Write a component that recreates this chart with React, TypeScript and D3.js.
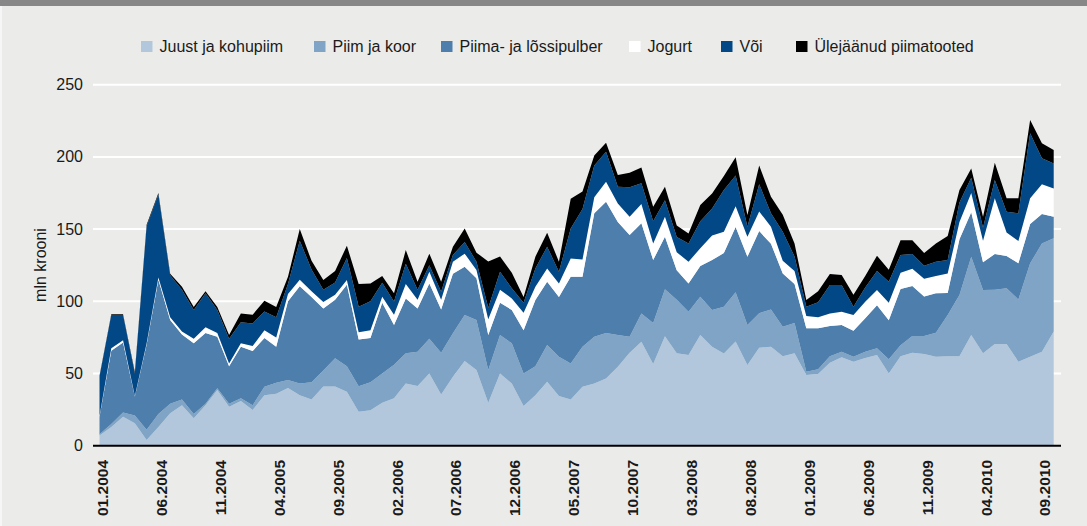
import React, { useEffect, useRef } from "react";
import * as d3 from "d3";

const seriesNames = ["Juust ja kohupiim", "Piim ja koor", "Piima- ja lõssipulber", "Jogurt", "Või", "Ülejäänud piimatooted"];
const seriesColors = ["#b3c7dc", "#80a4c5", "#4e7eab", "#ffffff", "#024887", "#000000"];

// monthly categories 01.2004 .. 10.2010
const months = d3.timeMonths(new Date(2004, 0, 1), new Date(2010, 10, 1)).map(d3.timeFormat("%m.%Y"));
const tickLabels = ["01.2004", "06.2004", "11.2004", "04.2005", "09.2005", "02.2006", "07.2006", "12.2006", "05.2007",
  "10.2007", "03.2008", "08.2008", "01.2009", "06.2009", "11.2009", "04.2010", "09.2010"];
const yTicks = [0, 50, 100, 150, 200, 250];

// mln krooni
const juust = [
  7, 13, 20, 15.5, 4, 13, 22.4, 28, 19, 28,
  38.5, 27, 31, 24.7, 35, 36, 40, 35, 32, 41,
  41, 37.4, 23.5, 24.5, 29.8, 32.8, 43, 41.3, 50, 35.5,
  47.8, 58.6, 52.4, 29.8, 50, 43, 27.5, 35, 44.3, 34.4,
  32, 40.9, 43, 46.6, 54.7, 64.4, 72, 56.5, 75.8, 64,
  62.8, 76.6, 68.6, 63.8, 72.2, 55.9, 67.9, 68.6, 62, 64,
  48.9, 49.6, 57.5, 61.2, 58.2, 60.7, 62.8, 50, 62, 64.4,
  63.5, 61.6, 62, 62, 76.6, 64, 70.4, 70.4, 58.2, 61.6,
  65, 79];
const piim = [
  1, 2, 3, 5.5, 7, 9, 6.6, 4, 3, 1,
  1.2, 2, 1.8, 3.3, 5.9, 7.6, 5.5, 8, 12, 11,
  19.5, 17.6, 17.7, 19.5, 20.2, 23.2, 21, 23.7, 24, 28.9,
  30, 31.9, 34.6, 22.6, 26.6, 27.9, 22.5, 20, 25.4, 27.2,
  25, 27.7, 32.5, 31.4, 21.9, 11.1, 19.6, 28.5, 32.5, 37,
  30, 26.6, 25.4, 32.4, 34.1, 27.7, 23.9, 25.8, 20.4, 21,
  2.3, 3.3, 4.5, 3.8, 3.4, 4.3, 4.6, 9.8, 7.5, 11.6,
  12.5, 16.7, 28.5, 42.3, 54.3, 43.8, 37.6, 38.6, 43.1, 64.7,
  75, 64.6];
const pulber = [
  12, 50.8, 48.5, 13, 59, 93, 58, 45, 49, 49,
  35.8, 26, 35.8, 37.5, 33.6, 25, 54.5, 67.5, 59, 43,
  40.5, 56.5, 32.4, 30.5, 49, 27.6, 38, 30, 38.4, 30,
  41.2, 33.5, 28.9, 24.2, 22.4, 23.1, 30, 45.9, 43.9, 41.4,
  60, 48.4, 85.5, 91, 78.4, 70.5, 62.4, 43.6, 36.4, 20.5,
  19.6, 21.3, 34.6, 37.2, 45.2, 47.3, 56.8, 45.4, 36.9, 27,
  30.1, 28.4, 20.9, 18.6, 18, 23.2, 29.8, 27, 39.1, 34.6,
  27.4, 27.2, 15.3, 38.7, 30.8, 19.2, 24.7, 22.4, 25, 27.2,
  20.4, 15];
const jogurt = [
  0.5, 1.6, 1.5, 0.5, 1, 1.5, 2, 2, 3, 4,
  2.5, 2, 2.4, 3.5, 5.5, 6.4, 5, 4.5, 4, 4.5,
  3.5, 3.2, 4.9, 5.5, 4.2, 7, 10, 6, 8.1, 6.6,
  8.4, 9, 5.7, 11, 9, 8, 12, 9.1, 9.2, 9.4,
  12.7, 12, 11, 13.8, 12.8, 12.6, 13.4, 11.4, 13.9, 12.5,
  15, 12.2, 17, 14.7, 14.3, 13.8, 13.6, 11.9, 8.7, 9,
  8.5, 7.6, 8.7, 9.2, 10.9, 11.5, 10.6, 12.2, 11.2, 12,
  12.2, 12, 13.5, 12, 13.3, 15, 38.6, 16.2, 15.5, 17.8,
  20.6, 19.6];
const voi = [
  27.5, 23.1, 17.5, 15.5, 81, 57.5, 29, 29, 20, 23.5,
  16, 17, 14.5, 15.7, 13, 14, 7, 27, 15, 8.5,
  8.5, 15.3, 17.8, 20, 9.7, 9.2, 14, 7, 4.5, 5.6,
  4.6, 8, 5.8, 8, 12.5, 7, 7, 12.8, 15, 8.1,
  20.8, 35, 22, 20.8, 11.6, 20.4, 14.3, 15.5, 11.4, 10.5,
  12.6, 18.8, 18.6, 28.9, 21.4, 7, 18.8, 9.3, 20.1, 10,
  6.5, 10.4, 19.7, 18.5, 5.8, 9.8, 13.2, 14.6, 12.2, 10.1,
  9.1, 9.9, 9.3, 13.5, 10.5, 9, 12.7, 14.4, 19.2, 45,
  18, 17.3];
const muud = [
  0.5, 0.5, 0.5, 1, 1, 1, 1, 2, 2, 1.5,
  2, 2.6, 6.1, 6, 7.4, 7, 5, 8, 6, 6.7,
  8, 8.5, 15.7, 12.4, 4.6, 5.8, 9.5, 5.6, 8, 7,
  5.8, 9.5, 6.3, 32, 10.5, 10.8, 4, 8.1, 9.7, 6.9,
  20.5, 12, 7, 6.2, 8, 10, 11, 10, 9.4, 8,
  7, 11.2, 10.5, 9.7, 12.6, 8, 13, 11.4, 11.9, 9,
  4.6, 7.7, 7.6, 6.9, 8.2, 8, 10.5, 8.2, 10.2, 9.5,
  8.8, 12.6, 16.6, 8.5, 6.5, 7.6, 12, 9.3, 10.3, 9.2,
  10.4, 9.3];

const W = 1087;
const H = 526;
const FONT = "'Liberation Sans', Arial, Helvetica, sans-serif";

export default function App() {
  const ref = useRef<SVGSVGElement>(null);

  useEffect(() => {
    const svg = d3.select(ref.current);
    svg.selectAll("*").remove();

    const keys = ["juust", "piim", "pulber", "jogurt", "voi", "muud"];
    const rows = months.map((m, i) => ({
      month: m, juust: juust[i], piim: piim[i], pulber: pulber[i],
      jogurt: jogurt[i], voi: voi[i], muud: muud[i],
    }));

    const x = d3.scalePoint<string>().domain(months).range([99.5, 1053.7]);
    const y = d3.scaleLinear().domain([0, 250]).range([445.7, 84.7]);
    const gridX0 = 93;
    const gridX1 = 1061;

    // background + top bar
    svg.append("rect").attr("width", W).attr("height", H).attr("fill", "#ebecea");
    svg.append("rect").attr("width", W).attr("height", 6).attr("fill", "#878787");
    svg.append("rect").attr("y", 6).attr("width", 2).attr("height", H - 6).attr("fill", "#f6f6f6");

    // gridlines
    svg.append("g")
      .selectAll("line")
      .data(yTicks.filter(t => t > 0))
      .enter()
      .append("line")
      .attr("x1", gridX0)
      .attr("x2", gridX1)
      .attr("y1", d => y(d))
      .attr("y2", d => y(d))
      .attr("stroke", "#ffffff")
      .attr("stroke-width", 2);

    // stacked areas
    const stacked = d3.stack<any>().keys(keys)(rows);
    const area = d3.area<any>()
      .x(d => x(d.data.month) as number)
      .y0(d => y(d[0]))
      .y1(d => y(d[1]));

    svg.append("g")
      .selectAll("path")
      .data(stacked)
      .enter()
      .append("path")
      .attr("d", area)
      .attr("fill", (_d, i) => seriesColors[i]);

    // baseline
    svg.append("line")
      .attr("x1", gridX0)
      .attr("x2", gridX1)
      .attr("y1", y(0))
      .attr("y2", y(0))
      .attr("stroke", "#000")
      .attr("stroke-width", 2);

    // y tick labels
    svg.append("g")
      .selectAll("text")
      .data(yTicks)
      .enter()
      .append("text")
      .attr("x", 83)
      .attr("y", d => y(d))
      .attr("text-anchor", "end")
      .attr("dominant-baseline", "central")
      .attr("font-family", FONT)
      .attr("font-size", 16)
      .attr("fill", "#1a1a1a")
      .text(d => d);

    // y title
    svg.append("text")
      .attr("transform", "translate(40,265) rotate(-90)")
      .attr("text-anchor", "middle")
      .attr("dominant-baseline", "central")
      .attr("font-family", FONT)
      .attr("font-size", 16)
      .attr("fill", "#1a1a1a")
      .text("mln krooni");

    // x tick labels
    svg.append("g")
      .selectAll("text")
      .data(tickLabels)
      .enter()
      .append("text")
      .attr("transform", d => `translate(${(x(d) as number) + 3},460) rotate(-90)`)
      .attr("text-anchor", "end")
      .attr("dominant-baseline", "central")
      .attr("font-family", FONT)
      .attr("font-size", 15.5)
      .attr("font-weight", "bold")
      .attr("fill", "#1a1a1a")
      .text(d => d);

    // legend
    const legendX = [141, 314, 441, 629, 721, 796];
    const lg = svg.append("g")
      .selectAll("g")
      .data(seriesNames)
      .enter()
      .append("g")
      .attr("transform", (_d, i) => `translate(${legendX[i]},41)`);
    lg.append("rect")
      .attr("width", 11.5)
      .attr("height", 11)
      .attr("fill", (_d, i) => seriesColors[i]);
    lg.append("text")
      .attr("x", 18.5)
      .attr("y", 5.8)
      .attr("dominant-baseline", "central")
      .attr("font-family", FONT)
      .attr("font-size", 16)
      .attr("fill", "#1a1a1a")
      .text(d => d);
  }, []);

  return (
    <svg ref={ref} width={W} height={H}
      style={{ position: "absolute", left: 0, top: 0, display: "block" }} />
  );
}
